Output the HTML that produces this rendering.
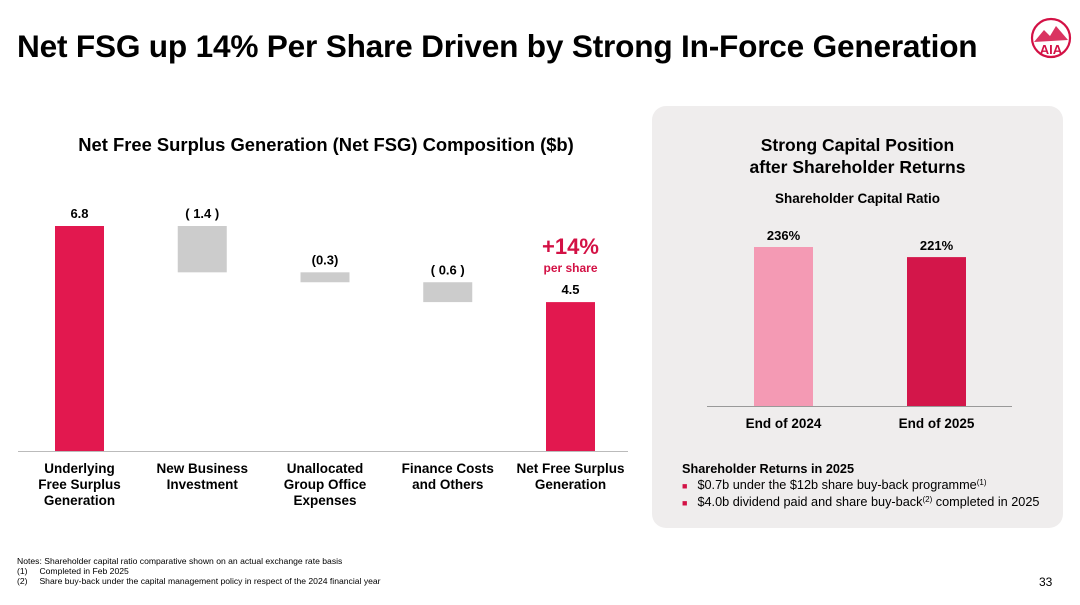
<!DOCTYPE html>
<html><head><meta charset="utf-8"><style>
body{margin:0;width:1080px;height:605px;background:#fff;font-family:"Liberation Sans",Arial,sans-serif;position:relative;overflow:hidden;color:#000}
.a{position:absolute}
.b{font-weight:bold}
sup{font-size:8px;position:relative;top:-4px;vertical-align:baseline;line-height:0}
</style></head><body>
<div class="a b" style="left:17px;top:28px;font-size:31.6px;letter-spacing:-0.2px;white-space:nowrap">Net FSG up 14% Per Share Driven by Strong In-Force Generation</div>
<svg class="a" style="left:1026px;top:14px" width="50" height="50" viewBox="0 0 50 50">
<circle cx="25" cy="24" r="19" fill="none" stroke="#d31145" stroke-width="2.2"/>
<path d="M8 28 L18 16 L24 22 L30 12 L42 26 Z" fill="#d31145" opacity="0.85"/>
<text x="25" y="40" text-anchor="middle" font-size="13" font-weight="bold" fill="#d31145" font-family="Liberation Sans,sans-serif">AIA</text>
</svg>
<div class="a b" style="left:0;width:652px;text-align:center;top:134px;font-size:18.4px;white-space:nowrap">Net Free Surplus Generation (Net FSG) Composition ($b)</div>
<svg class="a" id="wf" style="left:0;top:0" width="650" height="540"></svg>
<div class="a" style="left:652px;top:106px;width:411px;height:422px;background:#efeded;border-radius:14px"></div>
<div class="a b" style="left:652px;width:411px;text-align:center;top:134px;font-size:17.5px;line-height:22px">Strong Capital Position<br>after Shareholder Returns</div>
<div class="a b" style="left:652px;width:411px;text-align:center;top:191px;font-size:13.5px">Shareholder Capital Ratio</div>
<svg class="a" id="cap" style="left:652px;top:106px" width="411" height="340"></svg>
<div class="a" style="left:682px;top:461px;font-size:12.7px;line-height:16px">
<div class="b">Shareholder Returns in 2025</div>
<div><span style="color:#d31145;font-size:9px;margin-right:10px">■</span>$0.7b under the $12b share buy-back programme<sup>(1)</sup></div>
<div><span style="color:#d31145;font-size:9px;margin-right:10px">■</span>$4.0b dividend paid and share buy-back<sup>(2)</sup> completed in 2025</div>
</div>
<div class="a" style="left:17px;top:556px;font-size:8.6px;line-height:10px;white-space:nowrap">Notes: Shareholder capital ratio comparative shown on an actual exchange rate basis<br>(1)&nbsp;&nbsp;&nbsp;&nbsp;&nbsp;Completed in Feb 2025<br>(2)&nbsp;&nbsp;&nbsp;&nbsp;&nbsp;Share buy-back under the capital management policy in respect of the 2024 financial year</div>
<div class="a" style="left:1039px;top:575px;font-size:12px">33</div>
<script>
const wfCategories=[["Underlying","Free Surplus","Generation"],["New Business","Investment"],["Unallocated","Group Office","Expenses"],["Finance Costs","and Others"],["Net Free Surplus","Generation"]];
const wfValues=[6.8,-1.4,-0.3,-0.6,4.5];
const wfLabels=["6.8","( 1.4 )","(0.3)","( 0.6 )","4.5"];
const wfTypes=["total","delta","delta","delta","total"];
const capCategories=["End of 2024","End of 2025"];
const capValues=[236,221];
const capLabels=["236%","221%"];
const NS="http://www.w3.org/2000/svg";
function mk(p,t,a,txt){const e=document.createElementNS(NS,t);for(const k in a)e.setAttribute(k,a[k]);if(txt!==undefined)e.textContent=txt;p.appendChild(e);return e;}
const wf=document.getElementById('wf');
const base=451,ppu=225/6.8;
const y=v=>base-v*ppu;
const cx=i=>79.5+i*122.75;
mk(wf,'line',{x1:18,x2:628,y1:451.5,y2:451.5,stroke:'#bbb','stroke-width':1});
let run=0;
wfValues.forEach((v,i)=>{
 let top,bot,col;
 if(wfTypes[i]==='total'){top=y(v);bot=y(0);run=v;col='#e2184f';}
 else{top=y(run);bot=y(run+v);run=run+v;col='#cccccc';}
 const r=mk(wf,'rect',{x:cx(i)-24.5,y:top,width:49,height:bot-top,fill:col});
 
 
 const t=mk(wf,'text',{x:cx(i),y:top-8,'text-anchor':'middle','font-size':13,'font-weight':'bold'},wfLabels[i]);
 
 
 wfCategories[i].forEach((ln,j)=>{
  const c=mk(wf,'text',{x:cx(i),y:473+j*16,'text-anchor':'middle','font-size':13.5,'font-weight':'bold'},ln);
  
  
 });
});
const g1=mk(wf,'text',{x:cx(4),y:254,'text-anchor':'middle','font-size':22,'font-weight':'bold',fill:'#d31145'},'+14%');


const g2=mk(wf,'text',{x:cx(4),y:272,'text-anchor':'middle','font-size':12,'font-weight':'bold',fill:'#d31145'},'per share');


const cap=document.getElementById('cap');
const cb=300,cp=159/236;
const ccx=i=>131.5+i*153;
const cols=['#f49ab4','#d3164a'];
mk(cap,'line',{x1:55,x2:360,y1:300.5,y2:300.5,stroke:'#999','stroke-width':1});
capValues.forEach((v,i)=>{
 const top=cb-v*cp;
 const r=mk(cap,'rect',{x:ccx(i)-29.5,y:top,width:59,height:v*cp,fill:cols[i]});
 
 
 const t=mk(cap,'text',{x:ccx(i),y:top-7,'text-anchor':'middle','font-size':13,'font-weight':'bold'},capLabels[i]);
 
 
 const c=mk(cap,'text',{x:ccx(i),y:322,'text-anchor':'middle','font-size':13.5,'font-weight':'bold'},capCategories[i]);
 
 
});
</script>
</body></html>
